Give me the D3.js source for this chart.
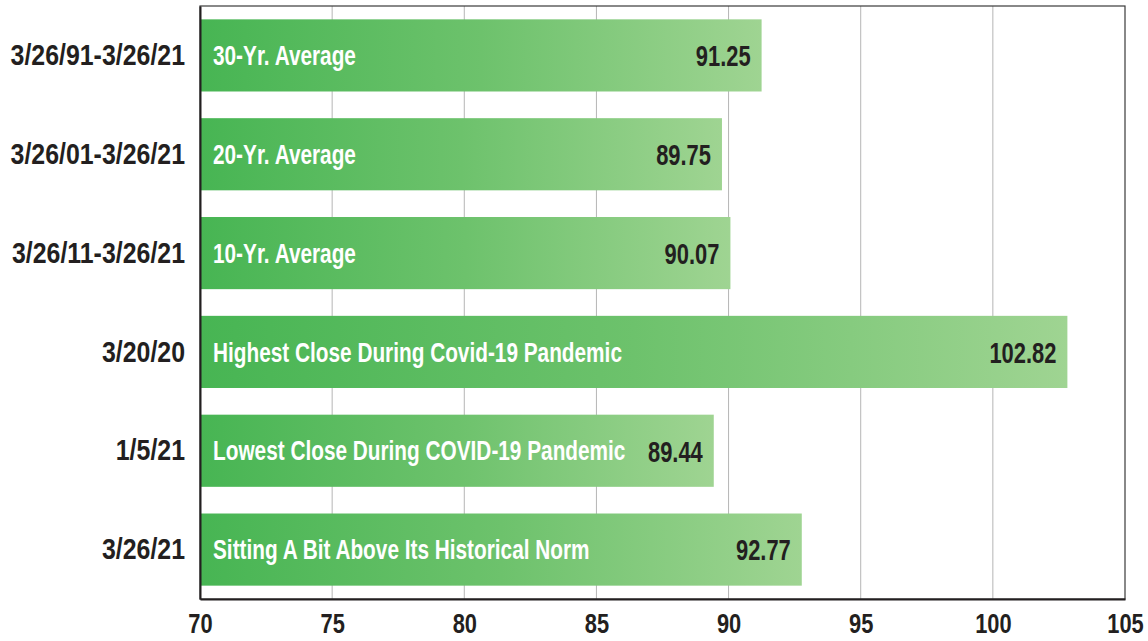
<!DOCTYPE html>
<html>
<head>
<meta charset="utf-8">
<script src="https://cdn.jsdelivr.net/npm/d3@7"></script>
<style>
  body { margin:0; background:#fff; }
  svg text { font-family:"Liberation Sans",Arial,sans-serif; font-weight:bold; }
</style>
</head>
<body>
<svg id="chart"></svg>
<script>
const W = 1148, H = 641;

const periods = ['3/26/91-3/26/21','3/26/01-3/26/21','3/26/11-3/26/21','3/20/20','1/5/21','3/26/21'];
const notes   = ['30-Yr. Average','20-Yr. Average','10-Yr. Average',
                 'Highest Close During Covid-19 Pandemic','Lowest Close During COVID-19 Pandemic',
                 'Sitting A Bit Above Its Historical Norm'];
const values  = [91.25, 89.75, 90.07, 102.82, 89.44, 92.77];
const xTicks  = [70, 75, 80, 85, 90, 95, 100, 105];

const M = {l:200, r:23, t:6, b:42};
const svg = d3.select('#chart').attr('width',W).attr('height',H);

const x = d3.scaleLinear().domain([70,105]).range([M.l, W-M.r]);
const y = d3.scaleBand().domain(periods).range([M.t, H-M.b]).paddingInner(0.27).paddingOuter(0.135);

// squeeze text to look like a condensed face
function condense(sel, k) {
  sel.each(function() {
    const w = this.getComputedTextLength();
    d3.select(this).attr('textLength', w*k).attr('lengthAdjust','spacingAndGlyphs');
  });
}

// gradient, per bar
const grad = svg.append('defs').append('linearGradient').attr('id','barg')
  .attr('x1','0%').attr('x2','100%').attr('y1','0%').attr('y2','0%');
grad.append('stop').attr('offset','0%').attr('stop-color','#47b553');
grad.append('stop').attr('offset','50%').attr('stop-color','#6dc26c');
grad.append('stop').attr('offset','100%').attr('stop-color','#9fd492');

// gridlines
svg.append('g').selectAll('line').data(xTicks.slice(1,-1)).join('line')
  .attr('x1',d=>x(d)).attr('x2',d=>x(d)).attr('y1',M.t).attr('y2',H-M.b)
  .attr('stroke','#b5b5b5').attr('stroke-width',1);

// frame
svg.append('rect').attr('x',M.l).attr('y',M.t).attr('width',x(105)-M.l).attr('height',H-M.b-M.t)
  .attr('fill','none').attr('stroke','#3a3a3a').attr('stroke-width',1.2);

// bars
const rows = periods.map((p,i) => ({p, note:notes[i], v:values[i]}));
const bars = svg.append('g').selectAll('g').data(rows).join('g');
bars.append('rect')
  .attr('x',x(70)+1).attr('y',d=>y(d.p))
  .attr('width',d=>x(d.v)-x(70)-1).attr('height',y.bandwidth())
  .attr('fill','url(#barg)');
bars.append('text')
  .attr('x',x(70)+13).attr('y',d=>y(d.p)+y.bandwidth()/2).attr('dy','0.36em')
  .attr('fill','#fff').attr('font-size',27).text(d=>d.note)
  .call(condense, 0.77);
bars.append('text')
  .attr('x',d=>x(d.v)-11).attr('y',d=>y(d.p)+y.bandwidth()/2).attr('dy','0.36em')
  .attr('text-anchor','end').attr('fill','#231f20').attr('font-size',30)
  .text(d=>d3.format('.2f')(d.v))
  .call(condense, 0.73);

// y axis
const ya = svg.append('g').attr('transform',`translate(${M.l},0)`)
  .call(d3.axisLeft(y).tickSize(0).tickPadding(15));
ya.select('.domain').attr('stroke','#231f20').attr('stroke-width',2);
ya.selectAll('text').attr('font-size',30).attr('fill','#231f20').attr('font-family',null)
  .call(condense, 0.83);

// x axis
const xa = svg.append('g').attr('transform',`translate(0,${H-M.b})`)
  .call(d3.axisBottom(x).tickValues(xTicks).tickSize(0).tickPadding(14));
xa.select('.domain').attr('stroke','#231f20').attr('stroke-width',2);
xa.selectAll('text').attr('font-size',28).attr('fill','#231f20').attr('font-family',null)
  .call(condense, 0.78);
</script>
</body>
</html>
